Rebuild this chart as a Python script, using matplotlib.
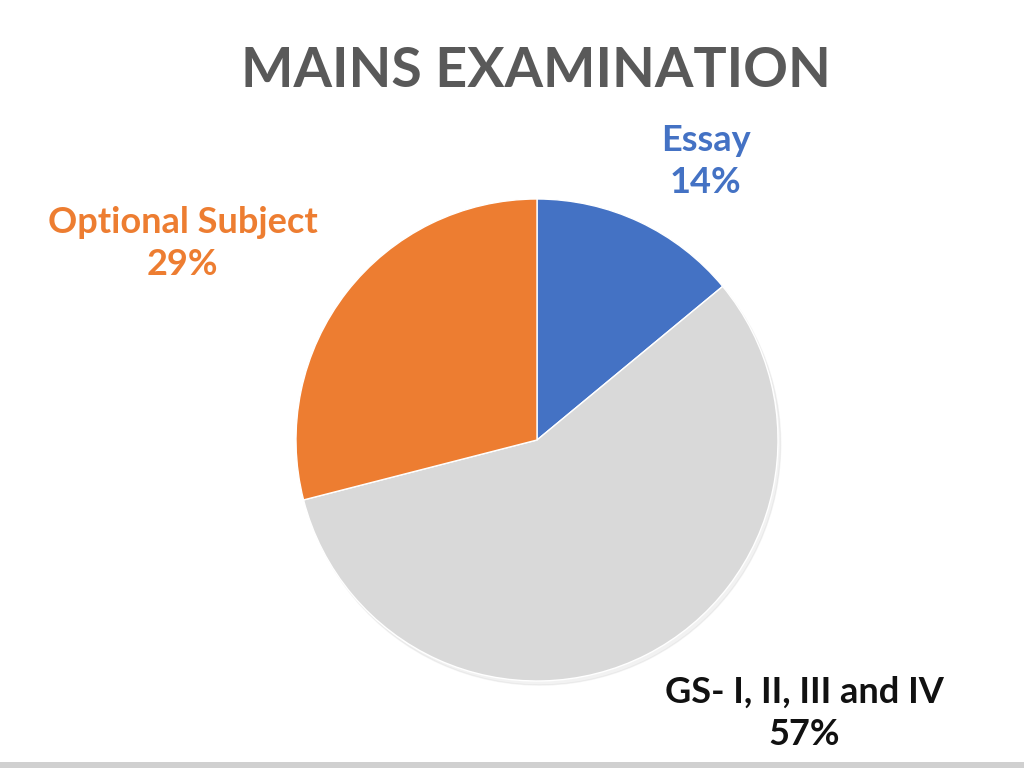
import matplotlib as mpl
mpl.use('Agg')
from matplotlib import pyplot as plt
from matplotlib.patches import Rectangle
import numpy as np

# 数据
categories = ['Essay', 'GS- I, II, III and IV', 'Optional Subject']
shares = [14, 57, 29]
colors = ['#4472C4', '#D9D9D9', '#ED7D31']
text_colors = ['#4472C4', '#111111', '#ED7D31']

plt.rcParams['font.family'] = ['Lato', 'DejaVu Sans']

fig = plt.figure(figsize=(10.24, 7.68), dpi=100)
fig.patch.set_facecolor('white')

# 饼图位置（像素换算）
cx, cy, r = 537, 440, 241
ax = fig.add_axes([(cx - r) / 1024, (768 - cy - r) / 768, 2 * r / 1024, 2 * r / 768])

wedges, _ = ax.pie(shares, colors=colors, startangle=90, counterclock=False,
                   radius=1, wedgeprops=dict(edgecolor='white', linewidth=1),
                   shadow=dict(ox=0.008, oy=-0.012, shade=0.12, alpha=0.2))
# pie() 会把范围设成 ±1.25，这里改回来
ax.set_xlim(-1, 1)
ax.set_ylim(-1, 1)
ax.axis('off')

# 标签位置（相对饼心的偏移，数据单位）
label_pos = [(0.70, 1.155), (1.11, -1.135), (-1.47, 0.815)]
for name, val, tc, (x, y) in zip(categories, shares, text_colors, label_pos):
    ax.text(x, y, '%s\n%d%%' % (name, val), ha='center', va='center',
            fontsize=26, fontweight='bold', color=tc, linespacing=1.35,
            clip_on=False)

fig.text(0.523, 0.907, 'MAINS EXAMINATION', ha='center', va='center',
         fontsize=40, fontweight='bold', color='#595959')

# 底部灰线
fig.patches.append(Rectangle((0, 0), 1, 6 / 768, transform=fig.transFigure,
                             facecolor='#D0D0D0', edgecolor='none'))

fig.savefig('out.png', dpi=100)
